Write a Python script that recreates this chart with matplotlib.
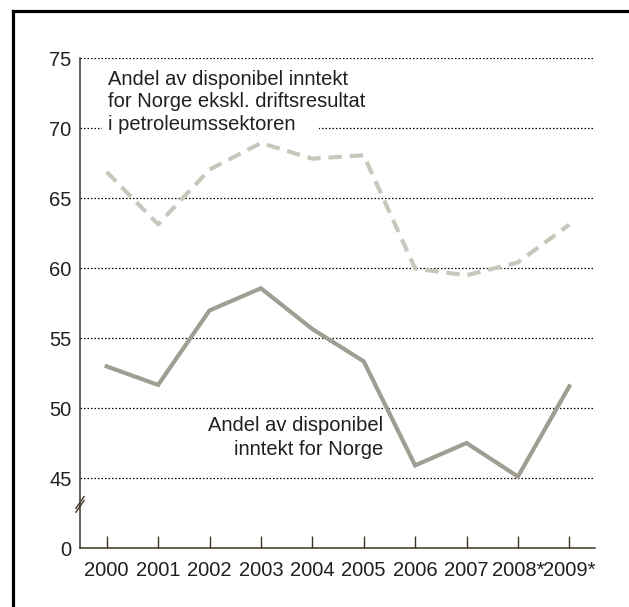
import matplotlib
matplotlib.use("Agg")
import matplotlib.pyplot as plt
from matplotlib.lines import Line2D

plt.rcParams['font.family'] = ['Liberation Sans', 'DejaVu Sans']

years = ['2000', '2001', '2002', '2003', '2004', '2005', '2006', '2007', '2008*', '2009*']
andel_norge = [52.97, 51.65, 56.97, 58.55, 55.64, 53.33, 45.9, 47.5, 45.1, 51.55]
andel_ekskl = [66.86, 63.12, 67.03, 68.93, 67.81, 68.05, 59.96, 59.48, 60.4, 63.1]
ytick_vals = [40, 45, 50, 55, 60, 65, 70, 75]
ytick_labels = ['0', '45', '50', '55', '60', '65', '70', '75']
label_ekskl = ['Andel av disponibel inntekt', 'for Norge ekskl. driftsresultat', 'i petroleumssektoren']
label_norge = 'Andel av disponibel\ninntekt for Norge'

txt = '#231f20'
spine_c = '#3d3526'
fs = 14.5

fig = plt.figure(figsize=(6.29, 6.07), dpi=100)
ax = fig.add_axes([80/629, 59/607, 515/629, 490/607])

x = list(range(len(years)))
for v in ytick_vals[1:]:
    ax.axhline(v, color='black', lw=0.9, linestyle=(0, (1.2, 1.6)), zorder=1)

ax.plot(x, andel_ekskl, color='#c9c7bc', lw=3, dashes=(3.2, 1.9), solid_capstyle='butt', zorder=3)
ax.plot(x, andel_norge, color='#a09d92', lw=3, solid_joinstyle='miter', zorder=3)

ax.set_xlim(-0.52, 9.5)
ax.set_ylim(40, 75)
ax.set_xticks(x)
ax.set_xticklabels(years, fontsize=fs, color=txt)
ax.set_yticks(ytick_vals)
ax.set_yticklabels(ytick_labels, fontsize=fs, color=txt)
ax.tick_params(axis='x', direction='in', length=8.5, width=1, color=spine_c, pad=9)
ax.tick_params(axis='y', length=0, pad=6)
for s in ['top', 'right']:
    ax.spines[s].set_visible(False)
for s in ['left', 'bottom']:
    ax.spines[s].set_color(spine_c)
    ax.spines[s].set_linewidth(1.1)

# axis break marks
for dy in (-0.004, 0.004):
    ax.plot([-0.008, 0.008], [0.089 + dy - 0.012, 0.089 + dy + 0.012], transform=ax.transAxes,
            color=spine_c, lw=1, clip_on=False, zorder=5)

for i, (line, yv) in enumerate(zip(label_ekskl, [73.43, 71.86, 70.25])):
    kw = {'zorder': 5}
    if i == 2:
        kw['bbox'] = dict(facecolor='white', edgecolor='none', boxstyle='square,pad=0.3')
        kw['zorder'] = 4
        line = line + '   '
    ax.text(0.03, yv, line, fontsize=fs, color=txt, ha='left', va='center', **kw)
ax.text(5.38, 47.86, label_norge, fontsize=fs, color=txt,
        ha='right', va='center', linespacing=1.33, zorder=4)

# frame lines (top and left)
fig.add_artist(Line2D([13/629, 1], [1 - 11/607, 1 - 11/607], transform=fig.transFigure,
                      color='black', lw=2.3, solid_capstyle='projecting'))
fig.add_artist(Line2D([13/629, 13/629], [0, 1 - 11/607], transform=fig.transFigure,
                      color='black', lw=2.3, solid_capstyle='projecting'))

fig.savefig('out.png', dpi=100)
